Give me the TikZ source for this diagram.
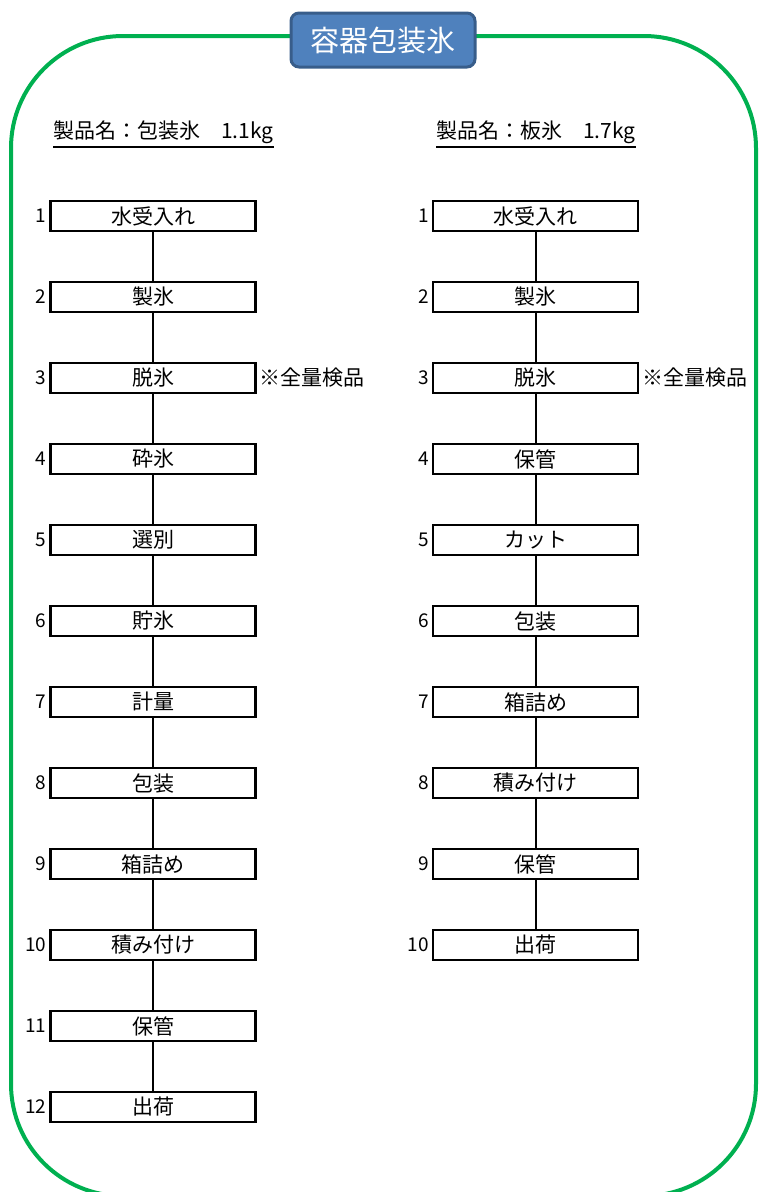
\documentclass[tikz,border=0pt]{standalone}
\usepackage{fontspec}
\setmainfont{Noto Sans CJK JP}
\definecolor{framegreen}{RGB}{0,176,80}
\definecolor{titlefill}{RGB}{79,129,189}
\definecolor{titleedge}{RGB}{56,93,138}
\begin{document}
\begin{tikzpicture}[x=1pt,y=-1pt,
  stepbox/.style={draw=black,line width=2.4pt,minimum width=205pt,minimum height=30pt,inner sep=0pt,font=\fontsize{21}{21}\selectfont},
  numlabel/.style={anchor=east,inner sep=0pt,font=\fontsize{19}{19}\selectfont},
  notelabel/.style={anchor=west,inner sep=0pt,font=\fontsize{21}{21}\selectfont},
  headlabel/.style={anchor=west,inner sep=0pt,font=\fontsize{21}{21}\selectfont},
  headline/.style={draw=black,line width=1.8pt},
  link/.style={draw=black,line width=2pt}]
\useasboundingbox (0,0) rectangle (759,1192);
\clip (0,0) rectangle (759,1192);
\draw[framegreen,line width=4pt,rounded corners=112pt] (11,36) rectangle (756,1196);
\node[draw=titleedge,fill=titlefill,line width=3pt,rounded corners=8pt,minimum width=184pt,minimum height=54pt,text=white,font=\fontsize{29}{29}\selectfont] (title) at (383,40) {容器包装氷};
\node[headlabel] (h1) at (53,132) {製品名：包装氷　1.1kg};
\node[headlabel] (h2) at (436,132) {製品名：板氷　1.7kg};
\draw[headline] ([yshift=-3pt]h1.south west) -- ([yshift=-3pt]h1.south east);
\draw[headline] ([yshift=-3pt]h2.south west) -- ([yshift=-3pt]h2.south east);
% left column
\foreach \i/\t in {1/水受入れ,2/製氷,3/脱氷,4/砕氷,5/選別,6/貯氷,7/計量,8/包装,9/箱詰め,10/積み付け,11/保管,12/出荷}{
  \node[stepbox] (L\i) at (153,{216+81*(\i-1)}) {\t};
  \node[numlabel] (LN\i) at ([xshift=-3pt]L\i.west) {\i};
}
\foreach \i/\t in {1/水受入れ,2/製氷,3/脱氷,4/保管,5/カット,6/包装,7/箱詰め,8/積み付け,9/保管,10/出荷}{
  \node[stepbox] (R\i) at (535.5,{216+81*(\i-1)}) {\t};
  \node[numlabel] (RN\i) at ([xshift=-3pt]R\i.west) {\i};
}
\foreach \a/\b in {1/2,2/3,3/4,4/5,5/6,6/7,7/8,8/9,9/10,10/11,11/12}{
  \draw[link] (L\a.south) -- (L\b.north);
}
\foreach \a/\b in {1/2,2/3,3/4,4/5,5/6,6/7,7/8,8/9,9/10}{
  \draw[link] (R\a.south) -- (R\b.north);
}
\node[notelabel] (n1) at ([xshift=3pt]L3.east) {※全量検品};
\node[notelabel] (n2) at ([xshift=3pt]R3.east) {※全量検品};
\end{tikzpicture}
\end{document}
